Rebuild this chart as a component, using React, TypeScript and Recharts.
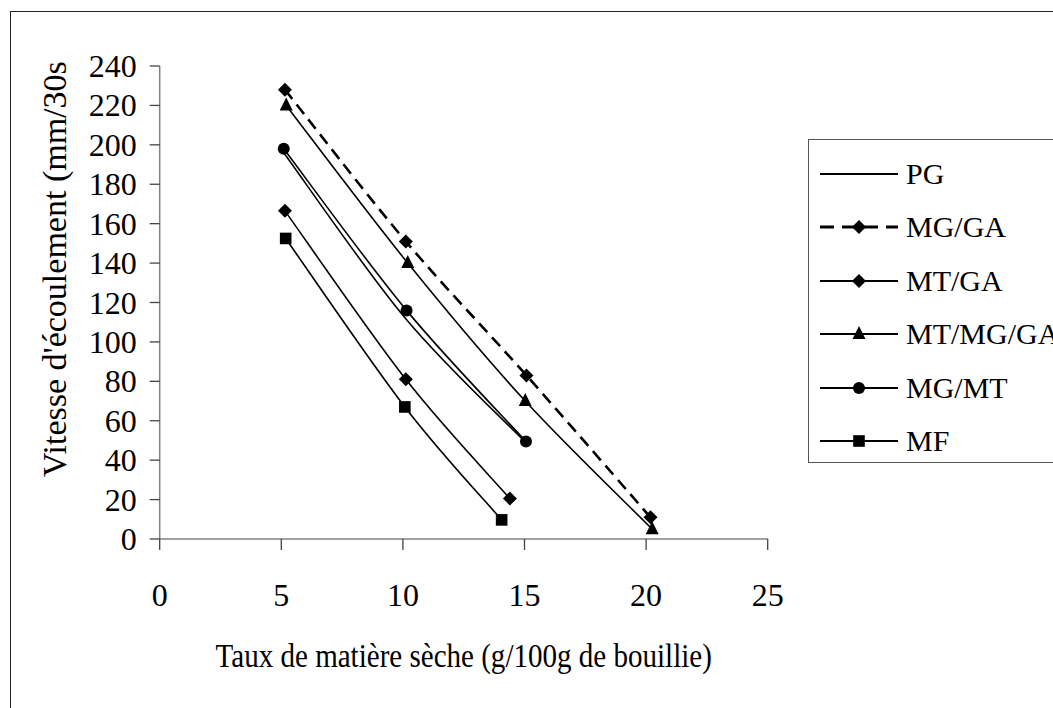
import React from 'react';
import { LineChart, Line, XAxis, YAxis, Legend } from 'recharts';

// axis ticks
const xTicks = [0, 5, 10, 15, 20, 25];
const yTicks = [0, 20, 40, 60, 80, 100, 120, 140, 160, 180, 200, 220, 240];

// series values (x = taux de matière sèche, y = vitesse)
const pgX = [5.1, 10.1, 15.05];
const pgY = [196, 112, 49];
const mgGaX = [5.15, 10.12, 15.08, 20.18];
const mgGaY = [228, 151, 83, 11];
const mtGaX = [5.15, 10.12, 14.4];
const mtGaY = [166.5, 81, 20.5];
const mtMgGaX = [5.2, 10.2, 15.03, 20.25];
const mtMgGaY = [220, 140, 70, 5];
const mgMtX = [5.1, 10.15, 15.06];
const mgMtY = [198, 116, 49.5];
const mfX = [5.18, 10.08, 14.06];
const mfY = [152.5, 67, 9.7];

const FONT = "'Liberation Serif', 'Times New Roman', serif";

type Shape = 'none' | 'diamond' | 'triangle' | 'circle' | 'square';

const toPoints = (xs: number[], ys: number[]) => xs.map((x, i) => ({ x, y: ys[i] }));

const series = [
  { name: 'PG', data: toPoints(pgX, pgY), shape: 'none' as Shape, dash: undefined, width: 1.6 },
  { name: 'MG/GA', data: toPoints(mgGaX, mgGaY), shape: 'diamond' as Shape, dash: '12 7', width: 2.6 },
  { name: 'MT/GA', data: toPoints(mtGaX, mtGaY), shape: 'diamond' as Shape, dash: undefined, width: 1.6 },
  { name: 'MT/MG/GA', data: toPoints(mtMgGaX, mtMgGaY), shape: 'triangle' as Shape, dash: undefined, width: 1.6 },
  { name: 'MG/MT', data: toPoints(mgMtX, mgMtY), shape: 'circle' as Shape, dash: undefined, width: 1.6 },
  { name: 'MF', data: toPoints(mfX, mfY), shape: 'square' as Shape, dash: undefined, width: 1.6 },
];

// spreadsheet-style smoothed line (bezier with 1/6 control points)
const smoothCurve = (context: any) => {
  let pts: number[][] = [];
  return {
    areaStart() {},
    areaEnd() {},
    lineStart() {
      pts = [];
    },
    point(x: number, y: number) {
      pts.push([+x, +y]);
    },
    lineEnd() {
      if (!pts.length) return;
      context.moveTo(pts[0][0], pts[0][1]);
      for (let i = 0; i < pts.length - 1; i++) {
        const p0 = pts[Math.max(i - 1, 0)];
        const p1 = pts[i];
        const p2 = pts[i + 1];
        const p3 = pts[Math.min(i + 2, pts.length - 1)];
        context.bezierCurveTo(
          p1[0] + (p2[0] - p0[0]) / 6,
          p1[1] + (p2[1] - p0[1]) / 6,
          p2[0] - (p3[0] - p1[0]) / 6,
          p2[1] - (p3[1] - p1[1]) / 6,
          p2[0],
          p2[1]
        );
      }
    },
  };
};

const Marker = ({ shape, cx, cy }: { shape: Shape; cx: number; cy: number }) => {
  if (shape === 'diamond') {
    return <polygon points={`${cx},${cy - 7} ${cx + 7},${cy} ${cx},${cy + 7} ${cx - 7},${cy}`} fill="#000" />;
  }
  if (shape === 'triangle') {
    return <polygon points={`${cx},${cy - 8} ${cx + 6.5},${cy + 5} ${cx - 6.5},${cy + 5}`} fill="#000" />;
  }
  if (shape === 'circle') {
    return <circle cx={cx} cy={cy} r={6} fill="#000" />;
  }
  if (shape === 'square') {
    return <rect x={cx - 5.8} y={cy - 5.8} width={11.6} height={11.6} fill="#000" />;
  }
  return <g />;
};

const XTick = (props: any) => {
  const { x, y, payload } = props;
  return (
    <text x={x} y={y} dy={54} textAnchor="middle" fontSize={32} fontFamily={FONT} fill="#000">
      {payload.value}
    </text>
  );
};

const YTick = (props: any) => {
  const { x, y, payload } = props;
  return (
    <text x={x} y={y} dy={11} textAnchor="end" fontSize={32} fontFamily={FONT} fill="#000">
      {payload.value}
    </text>
  );
};

const renderLegend = (props: any) => {
  const items = [...(props.payload || [])].sort(
    (a: any, b: any) => series.findIndex((s) => s.name === a.value) - series.findIndex((s) => s.name === b.value)
  );
  return (
    <div
      style={{
        width: '100%',
        height: '100%',
        border: '1.5px solid #555',
        boxSizing: 'border-box',
        background: '#fff',
        position: 'relative',
      }}
    >
      {items.map((entry: any, i: number) => {
        const s = series.find((d) => d.name === entry.value) || series[0];
        return (
          <div
            key={entry.value}
            style={{ position: 'absolute', left: 0, top: 34 + i * 53.4 - 20, height: 40, display: 'flex', alignItems: 'center', whiteSpace: 'nowrap' }}
          >
            <svg width={95} height={40} style={{ display: 'block' }}>
              <line x1={11} x2={89} y1={20} y2={20} stroke="#000" strokeWidth={s.width + 0.4} strokeDasharray={s.dash ? '14 8' : undefined} />
              <Marker shape={s.shape} cx={50} cy={20} />
            </svg>
            <span style={{ fontFamily: FONT, fontSize: 30, marginLeft: 2, color: '#000' }}>{entry.value}</span>
          </div>
        );
      })}
    </div>
  );
};

export default function App() {
  return (
    <div style={{ position: 'fixed', left: 0, top: 0, width: 1053, height: 708, overflow: 'hidden', background: '#fff' }}>
      <div
        style={{
          position: 'absolute',
          left: 10,
          top: 11,
          width: 1200,
          height: 800,
          border: '1.5px solid #222',
          boxSizing: 'border-box',
        }}
      />
      <div style={{ position: 'absolute', left: 0, top: 0 }}>
        <LineChart width={1053} height={708} margin={{ top: 66, right: 285.3, bottom: 69, left: 0 }}>
          <XAxis
            dataKey="x"
            type="number"
            domain={[0, 25]}
            ticks={xTicks}
            interval={0}
            height={100}
            stroke="#808080"
            strokeWidth={1.5}
            tickLine={{ stroke: '#444', strokeWidth: 1.3 }}
            tickSize={11}
            tickMargin={2}
            tick={<XTick />}
            allowDataOverflow
            label={{
              content: (p: any) => {
                const vb = p.viewBox || {};
                const cx = vb.x + vb.width / 2;
                return (
                  <text
                    transform={`translate(${cx}, 667) scale(0.88, 1)`}
                    x={0}
                    y={0}
                    textAnchor="middle"
                    fontSize={33}
                    fontFamily={FONT}
                    fill="#000"
                  >
                    Taux de matière sèche (g/100g de bouillie)
                  </text>
                );
              },
            }}
          />
          <YAxis
            type="number"
            domain={[0, 240]}
            ticks={yTicks}
            interval={0}
            width={159.7}
            stroke="#808080"
            strokeWidth={1.5}
            tickLine={{ stroke: '#444', strokeWidth: 1.3 }}
            tickSize={10}
            tickMargin={13}
            tick={<YTick />}
            allowDataOverflow
            label={{
              content: () => (
                <text x={66} y={477} transform="rotate(-90, 66, 477)" textAnchor="start" fontSize={34} fontFamily={FONT} fill="#000">
                  Vitesse d'écoulement (mm/30s
                </text>
              ),
            }}
          />
          <Legend
            layout="vertical"
            align="center"
            verticalAlign="middle"
            content={renderLegend}
            wrapperStyle={{ position: 'absolute', left: 808, top: 139, width: 300, height: 324 }}
          />
          {series.map((s) => (
            <Line
              key={s.name}
              name={s.name}
              data={s.data}
              dataKey="y"
              type={smoothCurve as any}
              stroke="#000"
              strokeWidth={s.width}
              strokeDasharray={s.dash}
              isAnimationActive={false}
              activeDot={false}
              dot={(p: any) => <Marker key={`${s.name}-${p.index}`} shape={s.shape} cx={p.cx} cy={p.cy} />}
            />
          ))}
        </LineChart>
      </div>
    </div>
  );
}
